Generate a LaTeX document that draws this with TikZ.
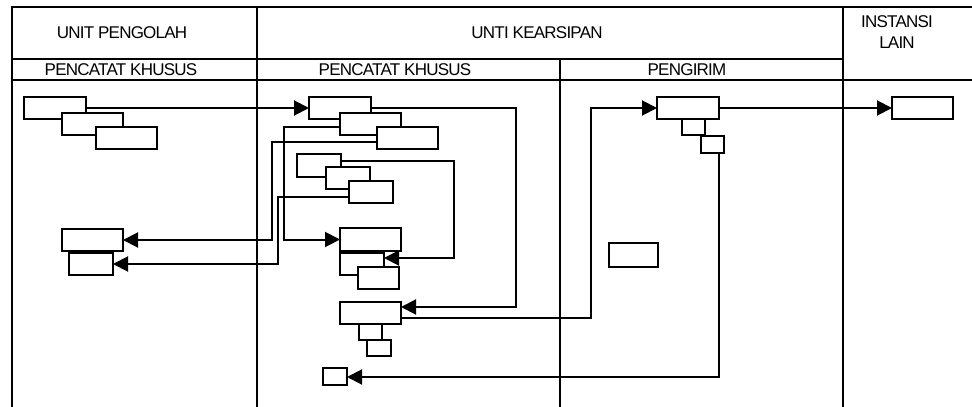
\documentclass[tikz,border=0pt]{standalone}
\usepackage{fontspec}
\setmainfont{Liberation Sans}[LetterSpace=-4.5]
\usepackage{tikz}
\usetikzlibrary{arrows.meta}

\tikzset{
  grid/.style={line width=1.3pt},
  box/.style={draw, fill=white, line width=1.9pt, inner sep=0pt, outer sep=0pt},
  head/.style={font=\fontsize{17}{21}\selectfont, inner sep=0pt, align=center},
  arr/.style={-{Triangle[length=15pt,width=15pt]}, line width=2pt}
}

\begin{document}
\begin{tikzpicture}[x=1pt, y=-1pt]
    \useasboundingbox (0,0) rectangle (972,407);

    % --- 1. THE TABLE ---
    \draw[grid] (12,407) -- (12,7) -- (972,7);
    \draw[grid] (12,59) -- (843,59);
    \draw[grid] (12,80) -- (972,80);
    \draw[grid] (257,7) -- (257,407);
    \draw[grid] (560,59) -- (560,407);
    \draw[grid] (843,7) -- (843,407);

    % column heads
    \node[head] (unit) at (122,33) {UNIT PENGOLAH};
    \node[head] (arsip) at (537,33) {UNTI KEARSIPAN};
    \node[head] (instansi) at (897,32) {INSTANSI\\LAIN};
    \node[head] (catat1) at (121,69.5) {PENCATAT KHUSUS};
    \node[head] (catat2) at (395,69.5) {PENCATAT KHUSUS};
    \node[head] (kirim) at (687,69.5) {PENGIRIM};

    % --- 2. THE BOXES ---
    % name / centre x / centre y / width / height (later ones lie on top)
    \foreach \name/\x/\y/\w/\h in {
        a1/55/108/62/22, a2/92.5/124/61/22, a3/126.5/138/61/22,
        b1/92.5/240/61/22, b2/91/264/44/22,
        c1/340/108/62/22, c2/370.5/124/61/22, c3/407.5/138/61/22,
        d1/319/165.5/44/23, d2/348/178/44/22, d3/371/192/44/22,
        e1/370.5/239.5/61/23, e2/362/264/44/22, e3/378.5/278/41/22,
        f1/370.5/313/61/22, f2/370.5/332/23/16, f3/379/348/24/16,
        g1/335/376.5/24/17,
        h1/688/108/62/22, h2/693.5/127/23/16, h3/712.5/144.5/23/17,
        k1/633.5/255/49/24,
        i1/922.5/108/61/22} {
        \node[box, minimum width=\w pt, minimum height=\h pt] (\name) at (\x,\y) {};
    }

    % --- 3. THE FLOW ---
    \draw[arr] (a1.east) -- (c1.west);
    \draw[arr] ([yshift=-3pt]c2.west) -- ++(-56,0) |- (e1.west);
    \draw[arr] ([yshift=-4pt]c3.west) -- ++(-105,0) |- (b1.east);
    \draw[arr] ([yshift=-5pt]d3.west) -- ++(-71,0) |- (b2.east);
    \draw[arr] ([yshift=4.5pt]d1.east) -- ++(113,0) |- ([yshift=6pt]e2.east);
    \draw[arr] (c1.east) -- ++(145,0) |- ([yshift=6pt]f1.east);
    \draw[arr] ([yshift=-5pt]f1.east) -- ++(190,0) |- (h1.west);
    \draw[arr] ([xshift=6.5pt]h3.south) |- ([yshift=-0.5pt]g1.east);
    \draw[arr] (h1.east) -- (i1.west);

\end{tikzpicture}
\end{document}
